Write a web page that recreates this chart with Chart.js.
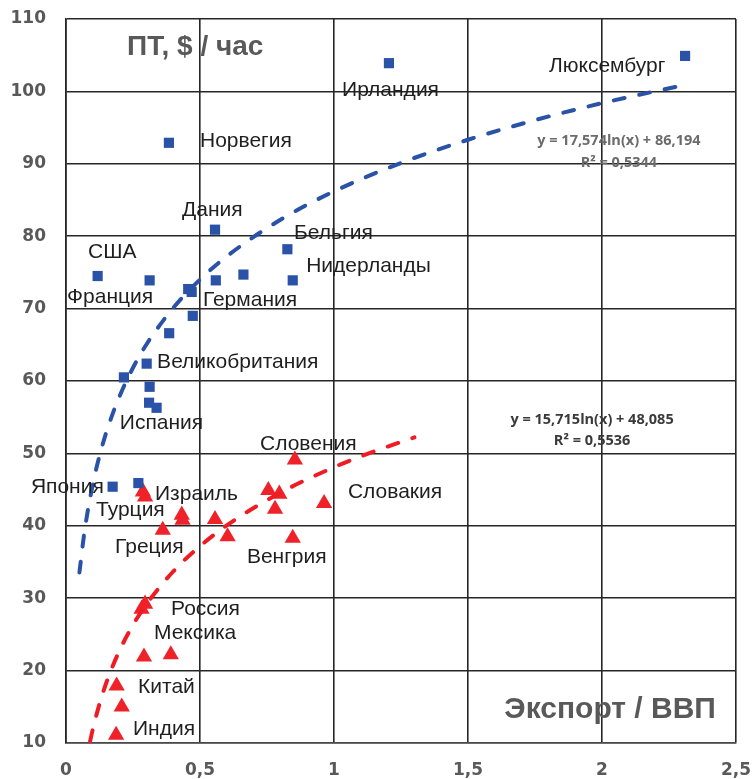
<!DOCTYPE html>
<html>
<head>
<meta charset="utf-8">
<style>
  html, body { margin: 0; padding: 0; background: #ffffff; }
  #wrap { width: 754px; height: 779px; position: relative; }
</style>
<script src="https://cdn.jsdelivr.net/npm/chart.js@4.4.1/dist/chart.umd.min.js"></script>
</head>
<body>
<div id="wrap"><canvas id="c" width="754" height="779"></canvas></div>
<script>
// ---- Data ----
// Developed economies (blue squares): export/GDP (x), labour productivity $/hour (y)
const blueX = [0.384, 1.205, 2.310, 0.556, 0.826, 0.118, 0.312, 0.559, 0.662, 0.846, 0.456, 0.469, 0.473, 0.385, 0.301, 0.216, 0.312, 0.310, 0.338, 0.174, 0.270];
const blueY = [92.9, 103.9, 104.9, 80.9, 78.2, 74.5, 73.9, 73.9, 74.7, 73.9, 72.7, 72.3, 69.0, 66.6, 62.4, 60.5, 59.2, 57.0, 56.3, 45.4, 45.9];

// Emerging economies (red triangles)
const redX = [0.854, 0.287, 0.295, 0.755, 0.796, 0.963, 0.780, 0.432, 0.435, 0.556, 0.361, 0.603, 0.846, 0.295, 0.282, 0.291, 0.391, 0.189, 0.208, 0.187];
const redY = [49.1, 44.7, 44.0, 44.9, 44.4, 43.1, 42.3, 41.5, 40.8, 40.9, 39.4, 38.5, 38.3, 29.2, 28.5, 21.9, 22.2, 17.9, 15.0, 11.1];

// Logarithmic trend lines as shown on the chart
const blueTrendX = [0.05, 0.07, 0.1, 0.13, 0.16, 0.2, 0.25, 0.3, 0.4, 0.5, 0.6, 0.8, 1.0, 1.25, 1.5, 1.75, 2.0, 2.3];
const blueTrendY = [33.55, 39.46, 45.73, 50.34, 53.99, 57.91, 61.83, 65.04, 70.09, 74.01, 77.22, 82.27, 86.19, 90.12, 93.32, 96.03, 98.38, 100.83];
const redTrendX = [0.09, 0.1, 0.13, 0.16, 0.2, 0.25, 0.3, 0.4, 0.5, 0.6, 0.8, 1.0, 1.15, 1.3];
const redTrendY = [10.25, 11.90, 16.02, 19.29, 22.79, 26.30, 29.16, 33.69, 37.19, 40.06, 44.58, 48.09, 50.28, 52.21];

// Tick labels
const xTickLabels = ['0', '0,5', '1', '1,5', '2', '2,5'];
const yTickLabels = ['10', '20', '30', '40', '50', '60', '70', '80', '90', '100', '110'];

// Country names
const countryNames = ['Ирландия', 'Люксембург', 'Норвегия', 'Дания', 'Бельгия', 'Нидерланды', 'США', 'Франция', 'Германия', 'Великобритания', 'Испания', 'Словения', 'Япония', 'Израиль', 'Словакия', 'Турция', 'Греция', 'Венгрия', 'Россия', 'Мексика', 'Китай', 'Индия'];
// Anchor (left, middle) of each country name in data units
const countryLabelX = [1.030, 1.802, 0.500, 0.433, 0.851, 0.896, 0.082, 0.004, 0.511, 0.340, 0.201, 0.724, -0.131, 0.332, 1.052, 0.112, 0.183, 0.675, 0.392, 0.328, 0.269, 0.250];
const countryLabelY = [100.2, 103.5, 93.15, 83.6, 80.4, 75.9, 77.8, 71.6, 71.2, 62.6, 54.2, 51.3, 45.4, 44.4, 44.7, 42.2, 37.1, 35.7, 28.5, 25.1, 17.7, 11.9];

// Axis titles and equations
const yTitle = 'ПТ, $ / час';
const xTitle = 'Экспорт / ВВП';
const blueEq = ['y = 17,574ln(x) + 86,194', 'R² = 0,5344'];
const redEq = ['y = 15,715ln(x) + 48,085', 'R² = 0,5536'];

function pts(xs, ys) { return xs.map((x, i) => ({ x: x, y: ys[i] })); }

const textPlugin = {
  id: 'texts',
  afterDatasetsDraw(chart) {
    const ctx = chart.ctx;
    const sx = chart.scales.x, sy = chart.scales.y;
    const px = v => sx.getPixelForValue(v);
    const py = v => sy.getPixelForValue(v);
    ctx.save();
    ctx.textBaseline = 'middle';
    // Country names
    ctx.fillStyle = '#1f1f1f';
    ctx.font = '21px "Liberation Sans", Arial, sans-serif';
    ctx.textAlign = 'left';
    countryNames.forEach((n, i) => {
      ctx.fillText(n, px(countryLabelX[i]), py(countryLabelY[i]));
    });
    // Axis titles
    ctx.fillStyle = '#595959';
    ctx.font = 'bold 28px "Liberation Sans", Arial, sans-serif';
    ctx.textAlign = 'left';
    ctx.fillText(yTitle, px(0.228), py(106.1));
    ctx.font = 'bold 30px "Liberation Sans", Arial, sans-serif';
    ctx.textAlign = 'right';
    ctx.fillText(xTitle, px(2.425), py(14.6));
    // Equations
    ctx.textAlign = 'center';
    ctx.font = 'bold 14.5px "Open Sans", sans-serif';
    ctx.fillStyle = '#6b6b6b';
    ctx.fillText(blueEq[0], px(2.063), py(93.15));
    ctx.fillText(blueEq[1], px(2.063), py(90.1));
    ctx.fillStyle = '#3a3a3a';
    ctx.fillText(redEq[0], px(1.963), py(54.6));
    ctx.fillText(redEq[1], px(1.963), py(51.7));
    ctx.restore();
  }
};

new Chart(document.getElementById('c'), {
  type: 'scatter',
  data: {
    datasets: [
      {
        label: 'blueTrend', data: pts(blueTrendX, blueTrendY), showLine: true,
        borderColor: '#2a52a6', borderWidth: 4, borderDash: [11, 15], borderCapStyle: 'round',
        pointRadius: 0, cubicInterpolationMode: 'monotone', fill: false, order: 1
      },
      {
        label: 'redTrend', data: pts(redTrendX, redTrendY), showLine: true,
        borderColor: '#ef1c24', borderWidth: 4, borderDash: [11, 15], borderCapStyle: 'round',
        pointRadius: 0, cubicInterpolationMode: 'monotone', fill: false, order: 1
      },
      {
        label: 'blue', data: pts(blueX, blueY), pointStyle: 'rect',
        pointRadius: 7.2, pointHoverRadius: 7.2, backgroundColor: '#2a52a6', borderColor: '#2a52a6', borderWidth: 0, order: 2
      },
      {
        label: 'red', data: pts(redX, redY), pointStyle: 'triangle',
        pointRadius: 9.4, pointHoverRadius: 9.4, backgroundColor: '#ee2228', borderColor: '#ee2228', borderWidth: 0, order: 2
      }
    ]
  },
  options: {
    responsive: false,
    animation: false,
    events: [],
    layout: { padding: { top: 19, right: 18, left: 0, bottom: 0 } },
    plugins: { legend: { display: false }, tooltip: { enabled: false } },
    scales: {
      x: {
        type: 'linear', min: 0, max: 2.5,
        afterFit(s) { s.height = 36; },
        ticks: {
          stepSize: 0.5, padding: 0, color: '#595959',
          font: { family: 'DejaVu Sans', size: 17, weight: 'bold' },
          callback: (v, i) => xTickLabels[i]
        },
        grid: { color: '#262626', lineWidth: 1.6, drawTicks: true, tickLength: 17, tickColor: 'rgba(0,0,0,0)' },
        border: { color: '#4a4a4a', width: 1.6 }
      },
      y: {
        type: 'linear', min: 10, max: 110,
        afterFit(s) { s.width = 66; },
        ticks: {
          stepSize: 10, padding: 0, color: '#595959',
          font: { family: 'DejaVu Sans', size: 17, weight: 'bold' },
          callback: (v, i) => yTickLabels[i]
        },
        grid: { color: '#262626', lineWidth: 1.6, drawTicks: true, tickLength: 20, tickColor: 'rgba(0,0,0,0)' },
        border: { color: '#262626', width: 1.6 }
      }
    }
  },
  plugins: [textPlugin]
});
</script>
</body>
</html>
